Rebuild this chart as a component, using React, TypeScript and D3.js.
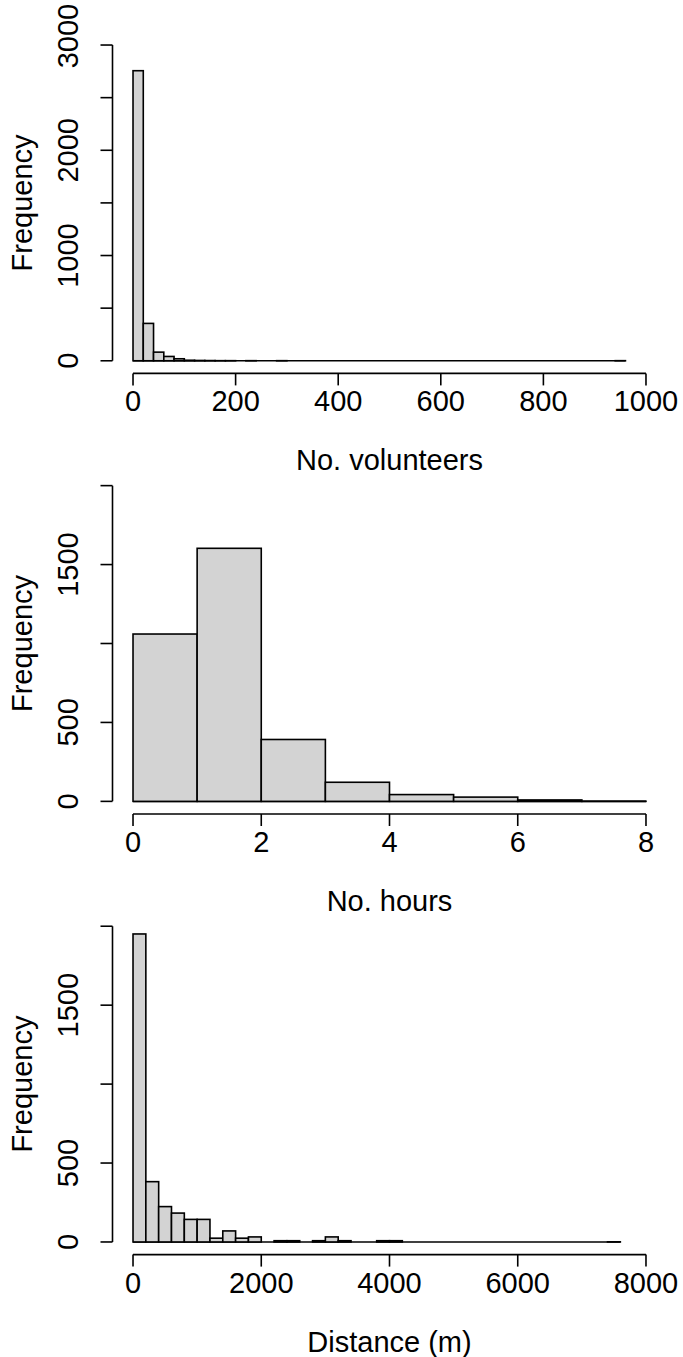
import React from 'react';
import * as d3 from 'd3';

// histogram counts (one value per bin)
const volunteerBinWidth = 20;
const volunteerCounts = [
  2756, 355, 82, 41, 19, 5, 3, 2, 1, 1,
  0, 1, 0, 0, 1, 0, 0, 0, 0, 0,
  0, 0, 0, 0, 0, 0, 0, 0, 0, 0,
  0, 0, 0, 0, 0, 0, 0, 0, 0, 0,
  0, 0, 0, 0, 0, 0, 0, 1,
];
const volunteerXTicks = [0, 200, 400, 600, 800, 1000];
const volunteerYTicks = [0, 500, 1000, 1500, 2000, 2500, 3000];
const volunteerYLabels = [0, 1000, 2000, 3000];

const hoursBinWidth = 1;
const hoursCounts = [1060, 1603, 392, 121, 43, 27, 9, 1];
const hoursXTicks = [0, 2, 4, 6, 8];
const hoursYTicks = [0, 500, 1000, 1500, 2000];
const hoursYLabels = [0, 500, 1500];

const distanceBinWidth = 200;
const distanceCounts = [
  1951, 382, 224, 183, 143, 143, 24, 70, 24, 32,
  0, 8, 8, 0, 8, 32, 8, 0, 0, 8,
  8, 0, 0, 0, 0, 0, 0, 0, 0, 0,
  0, 0, 0, 0, 0, 0, 0, 1,
];
const distanceXTicks = [0, 2000, 4000, 6000, 8000];
const distanceYTicks = [0, 500, 1000, 1500, 2000];
const distanceYLabels = [0, 500, 1500];

const W = 683;
const H = 1357;
const FONT = '"Liberation Sans", Arial, sans-serif';
const FS = 29;
const LW = 1.6;

interface HistProps {
  top: number;
  binWidth: number;
  counts: number[];
  xTicks: number[];
  yTicks: number[];
  yLabels: number[];
  xTitle: string;
  topLabelShift?: number;
}

const Hist: React.FC<HistProps> = ({ top, binWidth, counts, xTicks, yTicks, yLabels, xTitle, topLabelShift = 0 }) => {
  const left = 112.5;
  const right = 666.5;
  const plotH = 341;
  const bottom = top + plotH;
  const xMax = xTicks[xTicks.length - 1];
  const yMax = yTicks[yTicks.length - 1];

  // R pads the axis ranges by 4% on each side
  const x = d3.scaleLinear().domain([-0.04 * xMax, 1.04 * xMax]).range([left, right]);
  const y = d3.scaleLinear().domain([-0.04 * yMax, 1.04 * yMax]).range([bottom, top]);

  const tick = 12;
  const midX = (left + right) / 2;
  const midY = (top + bottom) / 2;

  return (
    <g>
      {/* zero-count bins still show as a line along the base */}
      <line x1={x(0)} x2={x(counts.length * binWidth)} y1={y(0)} y2={y(0)} stroke="#000" strokeWidth={LW} />
      {counts.map((c, i) => c > 0 && (
        <rect
          key={i}
          x={x(i * binWidth)}
          y={y(c)}
          width={x((i + 1) * binWidth) - x(i * binWidth)}
          height={y(0) - y(c)}
          fill="#d3d3d3"
          stroke="#000"
          strokeWidth={LW}
        />
      ))}

      {/* x axis */}
      <line x1={x(xTicks[0])} x2={x(xMax)} y1={bottom} y2={bottom} stroke="#000" strokeWidth={LW} />
      {xTicks.map((t) => (
        <g key={t}>
          <line x1={x(t)} x2={x(t)} y1={bottom} y2={bottom + tick} stroke="#000" strokeWidth={LW} />
          <text x={x(t)} y={bottom + 38} textAnchor="middle" fontSize={FS} fontFamily={FONT}>{t}</text>
        </g>
      ))}
      <text x={midX} y={bottom + 97} textAnchor="middle" fontSize={FS} fontFamily={FONT}>{xTitle}</text>

      {/* y axis */}
      <line x1={left} x2={left} y1={y(0)} y2={y(yMax)} stroke="#000" strokeWidth={LW} />
      {yTicks.map((t) => (
        <line key={t} x1={left} x2={left - tick} y1={y(t)} y2={y(t)} stroke="#000" strokeWidth={LW} />
      ))}
      {yLabels.map((t) => (
        <text
          key={t}
          transform={`translate(78,${y(t) + (t === yMax ? topLabelShift : 0)}) rotate(-90)`}
          textAnchor="middle"
          fontSize={FS}
          fontFamily={FONT}
        >{t}</text>
      ))}
      <text
        transform={`translate(32,${midY}) rotate(-90)`}
        textAnchor="middle"
        fontSize={FS}
        fontFamily={FONT}
      >Frequency</text>
    </g>
  );
};

export default function App() {
  const step = 440.6;
  return (
    <svg width={W} height={H} style={{ display: 'block', position: 'absolute', left: 0, top: 0, background: '#fff' }}>
      <rect width={W} height={H} fill="#fff" />
      <Hist top={32.4} binWidth={volunteerBinWidth} counts={volunteerCounts}
        xTicks={volunteerXTicks} yTicks={volunteerYTicks} yLabels={volunteerYLabels} xTitle="No. volunteers"
        topLabelShift={-9} />
      <Hist top={32.4 + step} binWidth={hoursBinWidth} counts={hoursCounts}
        xTicks={hoursXTicks} yTicks={hoursYTicks} yLabels={hoursYLabels} xTitle="No. hours" />
      <Hist top={32.4 + 2 * step} binWidth={distanceBinWidth} counts={distanceCounts}
        xTicks={distanceXTicks} yTicks={distanceYTicks} yLabels={distanceYLabels} xTitle="Distance (m)" />
    </svg>
  );
}
